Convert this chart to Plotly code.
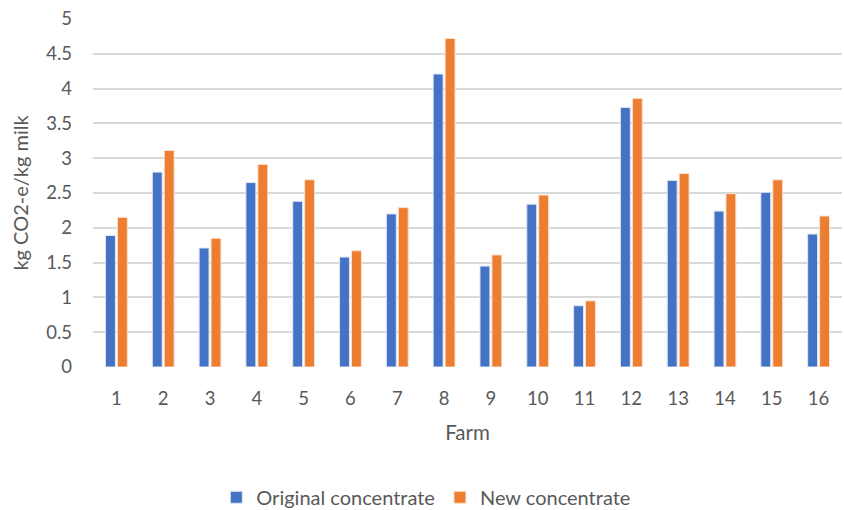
import plotly.graph_objects as go

farms = [str(i) for i in range(1, 17)]
original = [1.89, 2.80, 1.71, 2.65, 2.38, 1.58, 2.20, 4.21, 1.45, 2.34, 0.88, 3.73, 2.68, 2.24, 2.51, 1.91]
new = [2.15, 3.11, 1.85, 2.91, 2.69, 1.67, 2.29, 4.72, 1.61, 2.47, 0.95, 3.86, 2.78, 2.49, 2.69, 2.17]
y_ticks = [0, 0.5, 1, 1.5, 2, 2.5, 3, 3.5, 4, 4.5, 5]
y_tick_text = ["0", "0.5", "1", "1.5", "2", "2.5", "3", "3.5", "4", "4.5", "5"]

FONT = "Lato, 'Open Sans', sans-serif"
GRAY = "#595959"

fig = go.Figure()
fig.add_trace(go.Bar(x=farms, y=original, name="Original concentrate",
                     marker=dict(color="#4472C4", line=dict(color="#dfe7f5", width=1))))
fig.add_trace(go.Bar(x=farms, y=new, name="New concentrate",
                     marker=dict(color="#ED7D31", line=dict(color="#fbe2d2", width=1))))

fig.update_layout(
    width=844, height=510,
    margin=dict(l=93, r=2, t=19, b=143),
    paper_bgcolor="white", plot_bgcolor="white",
    barmode="group", bargap=0.49, bargroupgap=0.17,
    font=dict(family=FONT, size=18, color=GRAY),
    legend=dict(orientation="h", x=0.445, xanchor="center", xref="paper",
                y=0.025, yanchor="middle", yref="container",
                font=dict(size=20, color=GRAY), itemwidth=30, traceorder="normal"),
    xaxis=dict(type="category", showgrid=False, zeroline=False, showline=False,
               ticks="", ticklabelstandoff=18, tickfont=dict(size=18.5, color=GRAY),
               title=dict(text="Farm", font=dict(size=20.5, color=GRAY), standoff=18)),
    yaxis=dict(range=[0, 5], tickvals=y_ticks, ticktext=y_tick_text,
               showgrid=True, gridcolor="#d9d9d9", gridwidth=1.5, zeroline=False,
               showline=False, ticks="", ticklabelstandoff=20,
               tickfont=dict(size=18.5, color=GRAY),
               title=dict(text="kg CO2-e/kg milk", font=dict(size=20, color=GRAY), standoff=12)),
)

fig.write_html("out.html")
